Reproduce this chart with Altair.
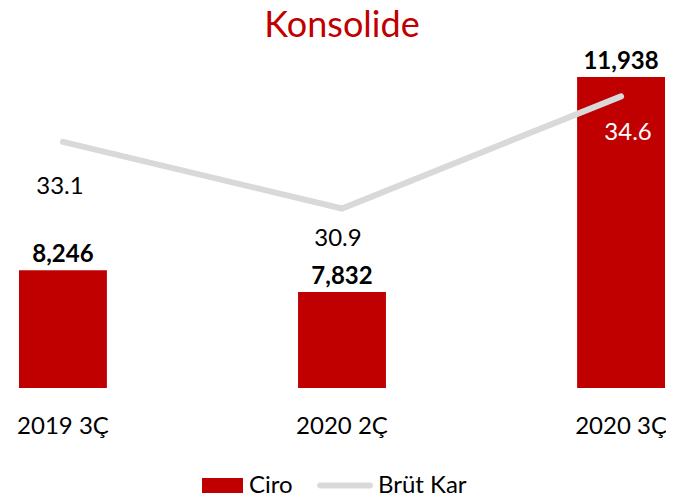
import altair as alt
import pandas as pd

categories = ["2019 3Ç", "2020 2Ç", "2020 3Ç"]
ciro = [8246, 7832, 11938]
brut_kar = [33.1, 30.9, 34.6]
series_names = ["Ciro", "Brüt Kar"]

RED = "#C00000"
GRAY = "#D9D9D9"
FONT = "Lato"

df = pd.DataFrame({"cat": categories, "ciro": ciro, "brut": brut_kar,
                   "s_bar": [series_names[0]] * 3, "s_line": [series_names[1]] * 3})

x = alt.X("cat:N", sort=categories,
          scale=alt.Scale(paddingInner=0.685, paddingOuter=0),
          axis=alt.Axis(title=None, domain=False, ticks=False, labelAngle=0,
                        labelFontSize=24, labelFont=FONT, labelColor="#000000",
                        labelPadding=26, grid=False))

base = alt.Chart(df)

y_bar = alt.Y("ciro:Q", scale=alt.Scale(domain=[6000, 12263], zero=False, nice=False),
              axis=None)
bars = base.mark_bar(clip=True).encode(
    x=x, y=y_bar,
    fill=alt.Fill("s_bar:N",
                  scale=alt.Scale(domain=[series_names[0]], range=[RED]),
                  legend=alt.Legend(title=None, orient="none", legendX=183, legendY=405,
                                    symbolType="M-1,-0.37H1V0.37H-1Z", symbolSize=1681,
                                    symbolStrokeWidth=0, symbolOpacity=1,
                                    labelFontSize=24, labelFont=FONT,
                                    labelColor="#000000", labelOffset=6, padding=0)))
bar_labels = base.mark_text(baseline="middle", dy=-15, fontSize=24, fontWeight="bold",
                            font=FONT, color="#000000").encode(
    x=x, y=y_bar, text=alt.Text("ciro:Q", format=",.0f"))

y_line = alt.Y("brut:Q", scale=alt.Scale(domain=[24.98, 35.8], zero=False, nice=False),
               axis=None)
line = base.mark_line(strokeWidth=6, strokeCap="round", strokeJoin="miter").encode(
    x=x, y=y_line,
    stroke=alt.Stroke("s_line:N",
                      scale=alt.Scale(domain=[series_names[1]], range=[GRAY]),
                      legend=alt.Legend(title=None, orient="none", legendX=313, legendY=405,
                                        symbolType="M-1.58,-0.146H0.854A0.146,0.146 0 0 1 0.854,0.146H-1.58A0.146,0.146 0 0 1 -1.58,-0.146Z",
                                        symbolSize=1681, symbolFillColor=GRAY,
                                        symbolStrokeWidth=0, symbolOpacity=1,
                                        labelFontSize=24, labelFont=FONT,
                                        labelColor="#000000", labelOffset=5, padding=0)))

label_dy = [45, 30, 37]
label_dx = [-3, -4, 7]
label_col = ["#000000", "#000000", "#FFFFFF"]
line_labels = []
for i, c in enumerate(categories):
    line_labels.append(
        base.transform_filter(alt.datum.cat == c).mark_text(
            baseline="middle", dy=label_dy[i], dx=label_dx[i], fontSize=24, font=FONT,
            color=label_col[i]).encode(
            x=x, y=y_line, text=alt.Text("brut:Q", format=".1f")))

bar_layer = alt.layer(bars, bar_labels)
line_layer = alt.layer(line, *line_labels)

chart = alt.layer(bar_layer, line_layer).resolve_scale(y="independent").properties(
    width=646, height=328,
    autosize=alt.AutoSizeParams(type="none"),
    padding={"left": 11, "top": 52, "right": 1, "bottom": 108},
    title=alt.Title("Konsolide", fontSize=36, font=FONT, fontWeight="normal",
                    color=RED, anchor="middle", offset=5),
).configure_view(stroke=None)

chart.save("out.html", embed_options={"renderer": "svg", "actions": False})
